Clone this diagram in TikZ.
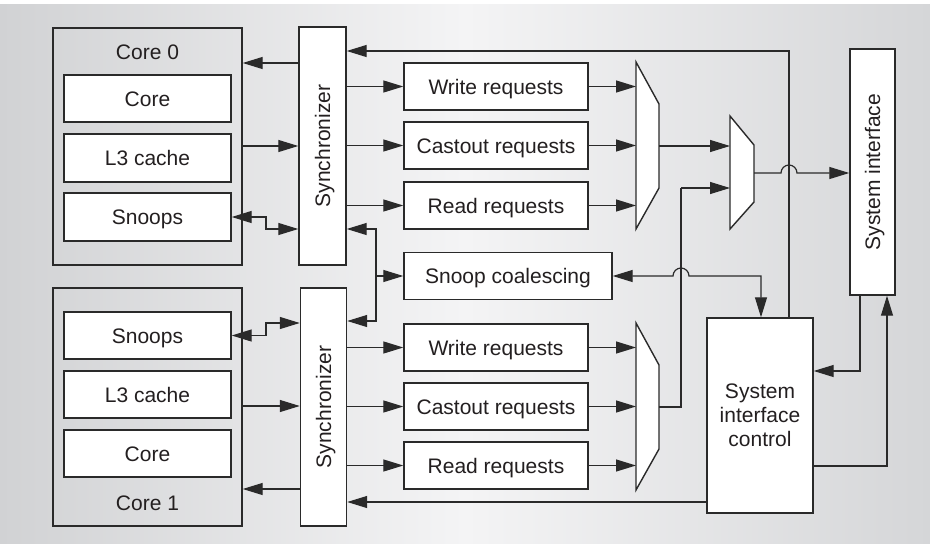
\documentclass[tikz,border=0pt]{standalone}
\usepackage{fontspec}
\setmainfont{Liberation Sans}
\usetikzlibrary{arrows.meta,calc}
\definecolor{ln}{HTML}{2A2A2A}
\definecolor{txt}{HTML}{231F20}
\definecolor{bgL}{HTML}{D1D2D4}
\definecolor{bgM}{HTML}{F4F4F5}
\definecolor{bgR}{HTML}{D5D6D8}
\tikzset{
  box/.style={draw=ln, line width=1.4pt, fill=white, inner sep=0pt, text=txt,
              text height=15pt, text depth=0pt, align=center},
  grpbox/.style={draw=ln, line width=1.4pt, inner sep=0pt},
  lbl/.style={text=txt, inner sep=0pt, text height=15pt, text depth=0pt},
  conn/.style={draw=ln, line width=1.2pt},
  arr/.style={conn, -{Triangle[length=20pt,width=12pt]}},
  arrtwo/.style={conn, {Triangle[length=20pt,width=12pt]}-{Triangle[length=20pt,width=12pt]}},
  muxst/.style={draw=ln, line width=1.4pt, fill=white, line join=miter}
}
\begin{document}
\begin{tikzpicture}[x=1pt,y=-1pt,font=\fontsize{21}{24}\selectfont]
\useasboundingbox (0,0) rectangle (930,544);
\fill[white] (0,0) rectangle (930,544);
\shade[left color=bgL, right color=bgR, middle color=bgM] (0,4) rectangle (930,544);

% ---- Core 0 group
\node[grpbox, minimum width=189pt, minimum height=237pt] (core0) at (147.5,146.5) {};
\node[lbl] (core0lbl) at (147.5,52) {Core 0};
\node[box, minimum width=167pt, minimum height=47pt] (c0core) at (147.5,98.5) {Core};
\node[box, minimum width=167pt, minimum height=48pt] (c0l3) at (147.5,158) {L3 cache};
\node[box, minimum width=167pt, minimum height=48pt] (c0snp) at (147.5,217) {Snoops};

% ---- Core 1 group
\node[grpbox, minimum width=189pt, minimum height=238pt] (core1) at (147.5,407) {};
\node[box, minimum width=167pt, minimum height=47pt] (c1snp) at (147.5,335.5) {Snoops};
\node[box, minimum width=167pt, minimum height=47pt] (c1l3) at (147.5,394.5) {L3 cache};
\node[box, minimum width=167pt, minimum height=47pt] (c1core) at (147.5,453.5) {Core};
\node[lbl] (core1lbl) at (147.5,503) {Core 1};

% ---- Synchronizers
\node[box, minimum width=47pt, minimum height=238pt] (sync0) at (322.5,146) {};
\node[lbl, rotate=90] (sync0lbl) at (sync0.center) {Synchronizer};
\node[box, minimum width=46pt, minimum height=238pt] (sync1) at (323.5,407) {};
\node[lbl, rotate=90] (sync1lbl) at (sync1.center) {Synchronizer};

% ---- Request queues
\node[box, minimum width=184pt, minimum height=47pt] (wr0) at (496,86.5) {Write requests};
\node[box, minimum width=184pt, minimum height=47pt] (co0) at (496,145.5) {Castout requests};
\node[box, minimum width=184pt, minimum height=47pt] (rd0) at (496,205.5) {Read requests};
\node[box, minimum width=208pt, minimum height=47pt] (snoopc) at (508,276) {Snoop coalescing};
\node[box, minimum width=184pt, minimum height=47pt] (wr1) at (496,347.5) {Write requests};
\node[box, minimum width=184pt, minimum height=47pt] (co1) at (496,406.5) {Castout requests};
\node[box, minimum width=184pt, minimum height=47pt] (rd1) at (496,465.5) {Read requests};

% ---- System interface and control
\node[box, minimum width=45pt, minimum height=246pt] (sysif) at (872.5,172) {};
\node[lbl, rotate=90] (sysiflbl) at (sysif.center) {System interface};
\node[box, minimum width=106pt, minimum height=195pt, text height=, text depth=] (sic) at (760,415.5) {System\\interface\\control};

% ---- Multiplexers
\coordinate (mA1) at (636,62);  \coordinate (mA2) at (659,104);
\coordinate (mA3) at (659,188); \coordinate (mA4) at (636,229);
\coordinate (mB1) at (730,116); \coordinate (mB2) at (754,145);
\coordinate (mB3) at (754,202); \coordinate (mB4) at (730,229);
\coordinate (mC1) at (636,323); \coordinate (mC2) at (659,365);
\coordinate (mC3) at (659,449); \coordinate (mC4) at (636,490);
\draw[muxst] (mA1) -- (mA2) -- (mA3) -- (mA4) -- cycle;
\draw[muxst] (mB1) -- (mB2) -- (mB3) -- (mB4) -- cycle;
\draw[muxst] (mC1) -- (mC2) -- (mC3) -- (mC4) -- cycle;

% ---- Connectors: top half
\draw[arr] (sic.north -| 789,0) |- (sync0.east |- 0,51);
\draw[arr] (sync0.west |- 0,63) -- (core0.east |- 0,63);
\draw[arr] (core0.east |- 0,146) -- (sync0.west |- 0,146);
\draw[arrtwo] (c0snp.east) -| (266,229) -- (sync0.west |- 0,229);
\draw[arr] (sync0.east |- wr0) -- (wr0.west);
\draw[arr] (sync0.east |- co0) -- (co0.west);
\draw[arr] (sync0.east |- rd0) -- (rd0.west);
\draw[arr] (wr0.east) -- (mA1 |- wr0);
\draw[arr] (co0.east) -- (mA1 |- co0);
\draw[arr] (rd0.east) -- (mA1 |- rd0);
\draw[arr] (mA2 |- 0,146) -- (mB1 |- 0,146);
\draw[arr] (mB2 |- 0,173) -- (781,173) arc[start angle=180,end angle=0,radius=8pt] -- (sysif.west |- 0,173);

% ---- Snoop paths
\draw[arrtwo] (sync0.east |- 0,229) -- (376,229) -- (376,321) -- (sync1.east |- 0,321);
\draw[arr] (376,276) -- (snoopc.west);
\draw[conn] (mC2 |- 0,407) -- (681,407) -- (681,188);
\draw[arr] (681,188) -- (mB1 |- 0,188);
\draw[arrtwo] (snoopc.east) -- (673,276) arc[start angle=180,end angle=0,radius=8pt] -- (761,276) -- (sic.north -| 761,0);

% ---- Connectors: bottom half
\draw[arrtwo] (c1snp.east) -| (266,323) -- (sync1.west |- 0,323);
\draw[arr] (core1.east |- 0,406) -- (sync1.west |- 0,406);
\draw[arr] (sync1.west |- 0,489) -- (core1.east |- 0,489);
\draw[arr] (sync1.east |- wr1) -- (wr1.west);
\draw[arr] (sync1.east |- co1) -- (co1.west);
\draw[arr] (sync1.east |- rd1) -- (rd1.west);
\draw[arr] (wr1.east) -- (mC1 |- wr1);
\draw[arr] (co1.east) -- (mC1 |- co1);
\draw[arr] (rd1.east) -- (mC1 |- rd1);
\draw[arr] (sic.west |- 0,502) -- (sync1.east |- 0,502);

% ---- System interface <-> control
\draw[arr] (sysif.south -| 860,0) |- (sic.east |- 0,371);
\draw[arr] (sic.east |- 0,466) -| (sysif.south -| 887,0);
\end{tikzpicture}
\end{document}
